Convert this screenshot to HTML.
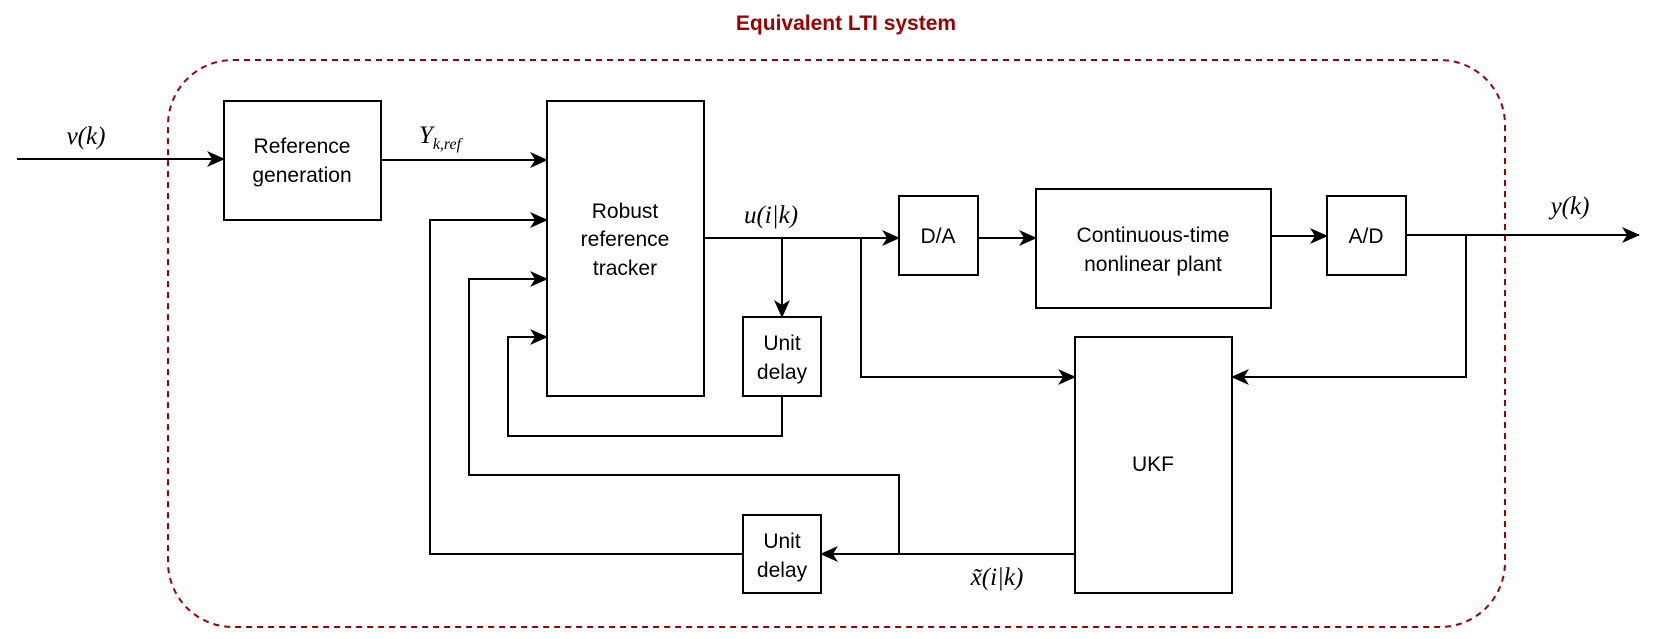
<!DOCTYPE html>
<html><head><meta charset="utf-8"><style>
body{margin:0;background:#fff}
svg text{font-family:"Liberation Sans",sans-serif}
.m{font-family:"Liberation Serif",serif;font-style:italic;font-size:25px}
</style></head><body>
<svg width="1661" height="634" viewBox="0 0 1661 634" xmlns="http://www.w3.org/2000/svg">
<defs><marker id="a" markerWidth="18" markerHeight="16" refX="17" refY="8" orient="auto" markerUnits="userSpaceOnUse"><path d="M0,0 L18,8 L0,16 L5,8 Z" fill="#000"/></marker></defs>
<text x="846" y="30" text-anchor="middle" font-size="21" font-weight="bold" fill="#a00000">Equivalent LTI system</text>
<rect x="168" y="60" width="1337" height="567" rx="65" ry="65" fill="none" stroke="#a00000" stroke-width="2" stroke-dasharray="6,5"/>
<g fill="none" stroke="#000" stroke-width="2">
<rect x="224" y="101" width="157" height="119"/>
<rect x="547" y="101" width="157" height="295"/>
<rect x="743" y="317" width="78" height="79"/>
<rect x="743" y="515" width="78" height="78"/>
<rect x="899" y="196" width="79" height="79"/>
<rect x="1036" y="189" width="235" height="119"/>
<rect x="1327" y="196" width="79" height="79"/>
<rect x="1075" y="337" width="157" height="256"/>
<path d="M17,159 H224" marker-end="url(#a)"/>
<path d="M381,160 H547" marker-end="url(#a)"/>
<path d="M704,238 H899" marker-end="url(#a)"/>
<path d="M782,238 V317" marker-end="url(#a)"/>
<path d="M861,238 V377 H1075" marker-end="url(#a)"/>
<path d="M978,238 H1036" marker-end="url(#a)"/>
<path d="M1271,236 H1327" marker-end="url(#a)"/>
<path d="M1406,235 H1639" marker-end="url(#a)"/>
<path d="M1466,235 V377 H1232" marker-end="url(#a)"/>
<path d="M782,396 V436 H508 V337 H547" marker-end="url(#a)"/>
<path d="M899,554 V475 H469 V279 H547" marker-end="url(#a)"/>
<path d="M1075,554 H821" marker-end="url(#a)"/>
<path d="M743,554 H430 V220 H547" marker-end="url(#a)"/>
</g>
<g font-size="21" text-anchor="middle" fill="#000">
<text x="302" y="153">Reference</text><text x="302" y="182">generation</text>
<text x="625" y="218">Robust</text><text x="625" y="246">reference</text><text x="625" y="275">tracker</text>
<text x="782" y="350">Unit</text><text x="782" y="379">delay</text>
<text x="782" y="548">Unit</text><text x="782" y="577">delay</text>
<text x="938" y="243">D/A</text>
<text x="1153" y="242">Continuous-time</text><text x="1153" y="271">nonlinear plant</text>
<text x="1366" y="243">A/D</text>
<text x="1153" y="471">UKF</text>
</g>
<g class="m" text-anchor="middle">
<text x="86" y="144" class="m">v(k)</text>
<text x="440" y="143" class="m">Y<tspan font-size="16" dy="6">k,ref</tspan></text>
<text x="771" y="223" class="m">u(i|k)</text>
<text x="1570" y="214" class="m">y(k)</text>
<text x="997" y="585" class="m">x̃(i|k)</text>
</g>
</svg>
</body></html>
